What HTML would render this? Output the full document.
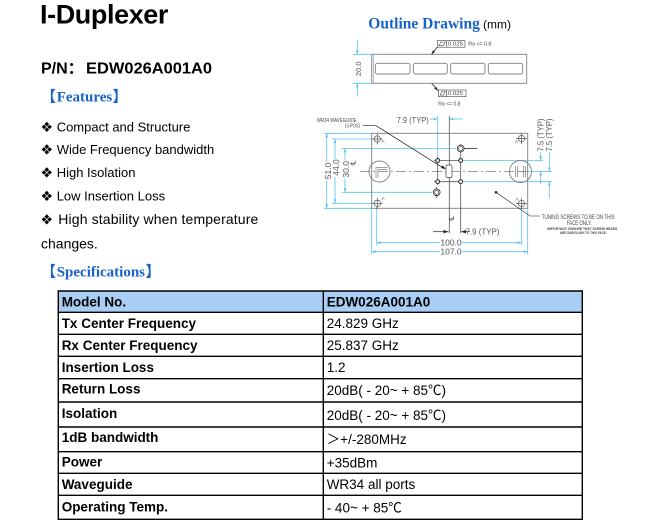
<!DOCTYPE html>
<html><head><meta charset="utf-8">
<style>
html,body{margin:0;padding:0;background:#fff;}
svg{display:block;}
</style></head>
<body>
<svg width="647" height="523" viewBox="0 0 647 523" xmlns="http://www.w3.org/2000/svg">
<rect x="0" y="0" width="647" height="523" fill="#fff"/>

<!-- Title -->
<text x="40" y="23.5" font-family="Liberation Sans, Arial, sans-serif" font-weight="bold" font-size="27" letter-spacing="-0.4" fill="#000">I-Duplexer</text>
<text x="41" y="73.5" font-family="Liberation Sans, Noto Sans CJK SC, sans-serif" font-weight="bold" font-size="16" fill="#000">P/N：</text>
<text x="86" y="73.5" font-family="Liberation Sans, sans-serif" font-weight="bold" font-size="16" fill="#000" textLength="126" lengthAdjust="spacingAndGlyphs">EDW026A001A0</text>

<!-- Features heading -->
<g fill="#1762c9">
<text x="41" y="101.5" font-family="Noto Sans CJK SC, sans-serif" font-weight="bold" font-size="15">【</text>
<text x="56.7" y="101.5" font-family="Liberation Serif, serif" font-weight="bold" font-size="15">Features</text>
<text x="112.5" y="101.5" font-family="Noto Sans CJK SC, sans-serif" font-weight="bold" font-size="15">】</text>
</g>

<!-- Features list -->
<g font-family="Liberation Sans, sans-serif" font-size="13" fill="#000">
<text x="40.5" y="131.8" font-family="DejaVu Sans, sans-serif" font-size="14">❖</text>
<text x="56.7" y="131.4">Compact and Structure</text>
<text x="40.5" y="154.4" font-family="DejaVu Sans, sans-serif" font-size="14">❖</text>
<text x="56.7" y="154">Wide Frequency bandwidth</text>
<text x="40.5" y="177.4" font-family="DejaVu Sans, sans-serif" font-size="14">❖</text>
<text x="56.7" y="177">High Isolation</text>
<text x="40.5" y="200.8" font-family="DejaVu Sans, sans-serif" font-size="14">❖</text>
<text x="56.7" y="200.4">Low Insertion Loss</text>
<text x="40.5" y="224.4" font-family="DejaVu Sans, sans-serif" font-size="14">❖</text>
<text x="58.3" y="224" font-size="14" textLength="200" lengthAdjust="spacing">High stability when temperature</text>
<text x="41" y="248.5" font-size="14">changes.</text>
</g>

<!-- Specifications heading -->
<g fill="#1762c9">
<text x="41" y="276.5" font-family="Noto Sans CJK SC, sans-serif" font-weight="bold" font-size="15">【</text>
<text x="56.7" y="276.5" font-family="Liberation Serif, serif" font-weight="bold" font-size="15">Specifications</text>
<text x="145.5" y="276.5" font-family="Noto Sans CJK SC, sans-serif" font-weight="bold" font-size="15">】</text>
</g>

<!-- Table -->
<rect x="58.3" y="291" width="524" height="21.3" fill="#a8cef5"/>
<g stroke="#000" stroke-width="1.4">
<line x1="57.6" y1="291" x2="583" y2="291"/>
<line x1="57.6" y1="312.3" x2="583" y2="312.3"/>
<line x1="57.6" y1="334.3" x2="583" y2="334.3"/>
<line x1="57.6" y1="356.3" x2="583" y2="356.3"/>
<line x1="57.6" y1="378.7" x2="583" y2="378.7"/>
<line x1="57.6" y1="402" x2="583" y2="402"/>
<line x1="57.6" y1="427" x2="583" y2="427"/>
<line x1="57.6" y1="451.7" x2="583" y2="451.7"/>
<line x1="57.6" y1="473.3" x2="583" y2="473.3"/>
<line x1="57.6" y1="495.3" x2="583" y2="495.3"/>
<line x1="57.6" y1="519.3" x2="583" y2="519.3"/>
<line x1="58.3" y1="290.3" x2="58.3" y2="520"/>
<line x1="323.3" y1="290.3" x2="323.3" y2="520"/>
<line x1="582.3" y1="290.3" x2="582.3" y2="520"/>
</g>
<g font-family="Liberation Sans, sans-serif" font-weight="bold" font-size="13.5" fill="#000">
<text x="61.7" y="306.6">Model No.</text>
<text x="61.7" y="328.2">Tx Center Frequency</text>
<text x="61.7" y="349.9">Rx Center Frequency</text>
<text x="61.7" y="372.2">Insertion Loss</text>
<text x="61.7" y="393.4">Return Loss</text>
<text x="61.7" y="418.2">Isolation</text>
<text x="61.7" y="442.2">1dB bandwidth</text>
<text x="61.7" y="466.6">Power</text>
<text x="61.7" y="488.9">Waveguide</text>
<text x="61.7" y="511.5">Operating Temp.</text>
<text x="326.7" y="306.6">EDW026A001A0</text>
</g>
<g font-family="Liberation Sans, Noto Sans CJK SC, sans-serif" font-size="13.5" fill="#000">
<text x="326.7" y="328.2">24.829 GHz</text>
<text x="326.7" y="349.9">25.837 GHz</text>
<text x="326.7" y="372.2">1.2</text>
<text x="326.7" y="395">20dB( - 20~ + 85℃)</text>
<text x="326.7" y="419.9">20dB( - 20~ + 85℃)</text>
<text x="326.7" y="443.8">＞+/-280MHz</text>
<text x="326.7" y="467.5">+35dBm</text>
<text x="326.7" y="488.9">WR34 all ports</text>
<text x="326.7" y="512.5"> - 40~ + 85℃</text>
</g>

<!-- Outline drawing title -->
<text x="368.3" y="28.3" font-family="Liberation Serif, serif" font-weight="bold" font-size="15.5" fill="#1762c9">Outline Drawing</text>
<text x="483" y="28.3" font-family="Liberation Sans, sans-serif" font-size="12" fill="#000">(mm)</text>

<!-- ===== Top view ===== -->
<g fill="none" stroke="#7f7f7f" stroke-width="0.9">
<rect x="371.7" y="54.3" width="155" height="29"/>
<line x1="373.4" y1="54.3" x2="373.4" y2="83.3" stroke="#b0b0b0"/>
<rect x="375.3" y="63.3" width="34.7" height="10.7" rx="2"/>
<rect x="413.3" y="63.3" width="34" height="10.7" rx="2"/>
<rect x="450.7" y="63.3" width="34.3" height="10.7" rx="2"/>
<rect x="488.3" y="63.3" width="34.4" height="10.7" rx="2"/>
</g>
<!-- 20.0 dim -->
<g stroke="#55c2ee" stroke-width="0.8" fill="none">
<line x1="357.3" y1="40" x2="357.3" y2="54.3"/>
<line x1="357.3" y1="83.3" x2="357.3" y2="96.7"/>
<line x1="353" y1="54.3" x2="371.7" y2="54.3"/>
<line x1="353" y1="83.3" x2="371.7" y2="83.3"/>
</g>
<g fill="#55c2ee">
<polygon points="357.3,54.3 356,50.3 358.6,50.3"/>
<polygon points="357.3,83.3 356,87.3 358.6,87.3"/>
</g>
<text transform="translate(361,68.8) rotate(-90)" text-anchor="middle" font-family="Liberation Sans, sans-serif" font-size="7.5" fill="#555">20.0</text>
<!-- top callout -->
<g stroke="#444" stroke-width="0.6" fill="none">
<rect x="437.3" y="40.5" width="27.7" height="6.7"/>
<line x1="446.7" y1="40.5" x2="446.7" y2="47.2"/>
<polygon points="439,45.6 440.8,42 445.2,42 443.4,45.6"/>
<rect x="438.3" y="90" width="27.7" height="6.7"/>
<line x1="446.7" y1="90" x2="446.7" y2="96.7"/>
<polygon points="440,95.1 441.8,91.5 445.2,91.5 443.4,95.1"/>
</g>
<g stroke="#222" stroke-width="0.8">
<line x1="437.3" y1="47" x2="431.6" y2="54.3"/>
<line x1="431.7" y1="83.3" x2="438.3" y2="91"/>
</g>
<g fill="#222">
<polygon points="431.6,54.3 435.0,52.0 432.8,50.3"/>
<polygon points="438,90.5 434.2,88.6 436.2,86.8"/>
</g>
<g font-family="Liberation Sans, sans-serif" font-size="5.5" fill="#444">
<text x="448" y="45.6" textLength="15" lengthAdjust="spacingAndGlyphs">0.025</text>
<text x="468.3" y="45.6" textLength="23" lengthAdjust="spacingAndGlyphs">Ra &lt;= 0.8</text>
<text x="448" y="95.1" textLength="15" lengthAdjust="spacingAndGlyphs">0.025</text>
<text x="438.3" y="105.5" textLength="22" lengthAdjust="spacingAndGlyphs">Ra &lt;= 0.8</text>
</g>

<!-- ===== Bottom view ===== -->
<g stroke="#55c2ee" stroke-width="0.8" fill="none">
<line x1="324" y1="133.3" x2="371.7" y2="133.3"/>
<line x1="324" y1="208.3" x2="371.7" y2="208.3"/>
<line x1="332" y1="139" x2="374" y2="139"/>
<line x1="332" y1="203.3" x2="374" y2="203.3"/>
<line x1="342" y1="148.5" x2="456" y2="148.5"/>
<line x1="342" y1="192.3" x2="432" y2="192.3"/>
<line x1="326.7" y1="133.3" x2="326.7" y2="162"/>
<line x1="326.7" y1="180.5" x2="326.7" y2="208.3"/>
<line x1="335" y1="139" x2="335" y2="158.5"/>
<line x1="335" y1="177" x2="335" y2="203.3"/>
<line x1="345" y1="148.5" x2="345" y2="160.5"/>
<line x1="345" y1="178.5" x2="345" y2="192.3"/>
<line x1="461" y1="160.5" x2="543" y2="160.5"/>
<line x1="527" y1="171.5" x2="552" y2="171.5"/>
<line x1="461" y1="181.7" x2="552" y2="181.7"/>
<line x1="540.7" y1="152" x2="540.7" y2="160.5"/>
<line x1="540.7" y1="171.5" x2="540.7" y2="184"/>
<line x1="549.3" y1="152" x2="549.3" y2="171.5"/>
<line x1="549.3" y1="181.7" x2="549.3" y2="198"/>
<line x1="437.7" y1="116" x2="437.7" y2="157"/>
<line x1="429.5" y1="119" x2="437.7" y2="119"/>
<line x1="449.3" y1="119" x2="463" y2="119"/>
<line x1="376.7" y1="207" x2="376.7" y2="245.5"/>
<line x1="521.7" y1="207" x2="521.7" y2="245.5"/>
<line x1="371.7" y1="209" x2="371.7" y2="254.5"/>
<line x1="527.7" y1="209" x2="527.7" y2="254.5"/>
<line x1="376.7" y1="242.7" x2="440" y2="242.7"/>
<line x1="462" y1="242.7" x2="521.7" y2="242.7"/>
<line x1="371.7" y1="251.7" x2="440" y2="251.7"/>
<line x1="462" y1="251.7" x2="527.7" y2="251.7"/>
</g>
<g fill="#55c2ee">
<polygon points="326.7,133.3 325.4,137.3 328,137.3"/>
<polygon points="326.7,208.3 325.4,204.3 328,204.3"/>
<polygon points="335,139 333.7,143 336.3,143"/>
<polygon points="335,203.3 333.7,199.3 336.3,199.3"/>
<polygon points="345,148.5 343.7,152.5 346.3,152.5"/>
<polygon points="345,192.3 343.7,188.3 346.3,188.3"/>
<polygon points="540.7,160.5 539.4,156.5 542,156.5"/>
<polygon points="540.7,171.5 539.4,175.5 542,175.5"/>
<polygon points="549.3,171.5 548,167.5 550.6,167.5"/>
<polygon points="549.3,181.7 548,185.7 550.6,185.7"/>
<polygon points="437.7,119 433.7,117.7 433.7,120.3"/>
<polygon points="449.3,119 453.3,117.7 453.3,120.3"/>
<polygon points="376.7,242.7 380.7,241.4 380.7,244"/>
<polygon points="521.7,242.7 517.7,241.4 517.7,244"/>
<polygon points="371.7,251.7 375.7,250.4 375.7,253"/>
<polygon points="527.7,251.7 523.7,250.4 523.7,253"/>
</g>

<!-- body outline -->
<g fill="none" stroke="#7f7f7f" stroke-width="0.9">
<rect x="371.7" y="133.3" width="156" height="75"/>
<line x1="360" y1="171.5" x2="527" y2="171.5" stroke-width="0.7" stroke-dasharray="10,3,2,3"/>
<circle cx="379.5" cy="171.5" r="10.5"/>
<path d="M376,178 V167.5 H387.5 M378,178 V169.5 H387.5" stroke-width="0.7"/>
<circle cx="520.5" cy="171.5" r="11"/>
<path d="M515.5,166 V177 M517.5,166 V177 M523.5,166 V177 M525.5,166 V177 M517.5,171.5 H523.5" stroke-width="0.7"/>
</g>
<g fill="none" stroke="#555" stroke-width="0.7">
<circle cx="377.3" cy="139" r="3.2"/>
<path d="M371.8,139 H382.8 M377.3,133.5 V144.5"/>
<circle cx="521.5" cy="138.5" r="3.2"/>
<path d="M516,138.5 H527 M521.5,133 V144"/>
<circle cx="377.3" cy="203.3" r="3.2"/>
<path d="M371.8,203.3 H382.8 M377.3,197.8 V208.8"/>
<circle cx="521.5" cy="203.5" r="3.2"/>
<path d="M516,203.5 H527 M521.5,198 V209"/>
</g>
<g font-family="Liberation Sans, sans-serif" font-size="4.5" fill="#555">
<text x="381.5" y="143">A</text>
<text x="515" y="143">A</text>
<text x="381.5" y="200">A</text>
<text x="515.5" y="200.5">A</text>
</g>
<g stroke="#555" stroke-width="0.8" fill="none">
<line x1="449.3" y1="116" x2="449.3" y2="233"/>
<line x1="460.7" y1="144" x2="460.7" y2="233"/>
<line x1="437.7" y1="157" x2="437.7" y2="185"/>
<line x1="434" y1="160.5" x2="461" y2="160.5"/>
<line x1="434" y1="181.7" x2="461" y2="181.7"/>
<line x1="460.7" y1="148.5" x2="477" y2="148.5" stroke="#222"/>
<line x1="436.7" y1="187" x2="436.7" y2="198"/>
</g>
<g stroke="#222" fill="#fff">
<circle cx="437.7" cy="160.5" r="1.9" stroke-width="1"/>
<circle cx="460.7" cy="160.5" r="1.9" stroke-width="1"/>
<circle cx="437.7" cy="181.7" r="1.9" stroke-width="1"/>
<circle cx="460.7" cy="181.7" r="1.9" stroke-width="1"/>
<circle cx="460.7" cy="148.5" r="3.4" stroke-width="0.8"/>
<circle cx="460.7" cy="148.5" r="2" stroke-width="0.6"/>
<circle cx="436.7" cy="192.3" r="3.4" stroke-width="0.8"/>
<circle cx="436.7" cy="192.3" r="2" stroke-width="0.6"/>
</g>
<rect x="446" y="165" width="6" height="12.5" rx="1.5" fill="#fff" stroke="#444" stroke-width="0.7"/>

<polyline points="363,125.7 376,125.7 443,167.8" fill="none" stroke="#222" stroke-width="0.7"/>
<polygon points="446,169.3 441.0,168.0 442.6,165.4" fill="#222"/>
<g font-family="Liberation Sans, sans-serif" font-size="5" fill="#444">
<text x="316.7" y="122" textLength="40" lengthAdjust="spacingAndGlyphs">WR34 WAVEGUIDE</text>
<text x="345" y="127.5" textLength="15" lengthAdjust="spacingAndGlyphs">(3-POS)</text>
</g>

<g stroke="#222" stroke-width="0.7">
<line x1="433" y1="231.7" x2="448.5" y2="231.7"/>
<line x1="461" y1="231.7" x2="470" y2="231.7"/>
</g>
<g fill="#222">
<polygon points="448.5,231.7 443.5,230 443.5,233.4"/>
<polygon points="461,231.7 466,230 466,233.4"/>
</g>

<g font-family="Liberation Sans, sans-serif" font-size="8" fill="#555">
<text x="396.7" y="123" textLength="32" lengthAdjust="spacingAndGlyphs">7.9 (TYP)</text>
<text x="465.5" y="234.5" textLength="34" lengthAdjust="spacingAndGlyphs">7.9 (TYP)</text>
<text x="451" y="245.7" text-anchor="middle" font-size="8.5">100.0</text>
<text x="451" y="254.7" text-anchor="middle" font-size="8.5">107.0</text>
<text transform="translate(331,171) rotate(-90)" text-anchor="middle" font-size="8.5">51.0</text>
<text transform="translate(339,167.5) rotate(-90)" text-anchor="middle" font-size="8.5">44.0</text>
<text transform="translate(348.8,169.3) rotate(-90)" text-anchor="middle" font-size="8.5">30.0</text>
<text transform="translate(543.5,135) rotate(-90)" text-anchor="middle" textLength="33" lengthAdjust="spacingAndGlyphs">7.5 (TYP)</text>
<text transform="translate(552.2,135) rotate(-90)" text-anchor="middle" textLength="33" lengthAdjust="spacingAndGlyphs">7.5 (TYP)</text>
</g>
<g font-family="DejaVu Sans, sans-serif" font-size="7" fill="#555">
<text transform="translate(355.5,163) rotate(-90)" text-anchor="middle">℄</text>
<text transform="translate(454,218.3) rotate(-90)" text-anchor="middle">℄</text>
</g>

<polyline points="496,192.3 530,216 540,216" fill="none" stroke="#222" stroke-width="0.6"/>
<circle cx="496" cy="192.3" r="1.3" fill="#222"/>
<g font-family="Liberation Sans, sans-serif" fill="#444">
<text x="541.7" y="219" font-size="6" textLength="73" lengthAdjust="spacingAndGlyphs">TUNING SCREWS TO BE ON THIS</text>
<text x="566.7" y="225" font-size="6" textLength="25" lengthAdjust="spacingAndGlyphs">FACE ONLY.</text>
<text x="547.3" y="230" font-size="4" font-weight="bold" textLength="70" lengthAdjust="spacingAndGlyphs">IMPORTANT:   ENSURE THAT SCREW HEADS</text>
<text x="560" y="234" font-size="4" font-weight="bold" textLength="46.7" lengthAdjust="spacingAndGlyphs">ARE SUB-FLUSH TO THIS FACE.</text>
</g>
</svg>
</body></html>
